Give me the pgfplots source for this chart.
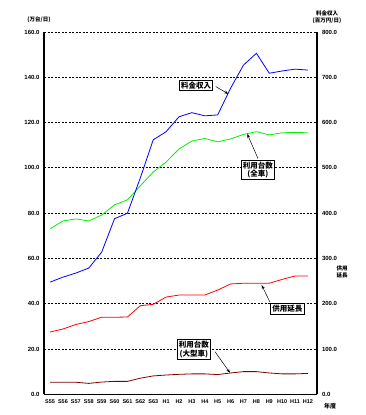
\documentclass[border=0pt]{standalone}
\usepackage{pgfplots}
\pgfplotsset{compat=1.18}
\usepackage{fontspec}
\setmainfont{Liberation Sans}
\newfontfamily\jp{Noto Sans CJK JP}
\usetikzlibrary{arrows.meta}
\begin{document}
\begin{tikzpicture}[x=1pt,y=1pt]
\useasboundingbox (0,0) rectangle (365,415);
\pgfplotsset{
  base/.style={
    at={(44pt,20.5pt)}, anchor=south west, scale only axis,
    width=273pt, height=362.5pt,
    xmin=-0.47, xmax=20.7,
    major tick length=0pt,
    axis line style={line width=1.1pt,-},
    tick label style={font=\bfseries\fontsize{6}{7}\selectfont},
    yticklabel style={/pgf/number format/fixed,/pgf/number format/fixed zerofill,/pgf/number format/precision=1,/pgf/number format/assume math mode=true},
  }
}
\begin{axis}[base,
  ymin=0, ymax=160, ytick={0,20,...,160},
  xtick={0,...,20},
  xticklabels={S55,S56,S57,S58,S59,S60,S61,S62,S63,H1,H2,H3,H4,H5,H6,H7,H8,H9,H10,H11,H12},
  xticklabel style={font=\bfseries\fontsize{5.5}{6}\selectfont, yshift=-2pt},
  yticklabel style={xshift=-1pt},
  axis y line*=left, axis x line*=bottom,
  ymajorgrids,
  major grid style={black, dash pattern=on 2.2pt off 1.3pt, line width=0.9pt},
]
\addplot[color={rgb,255:red,0;green,240;blue,0}, line width=0.8pt] coordinates {
(0,73.1)(1,76.6)(2,77.5)(3,76.6)(4,79.2)(5,83.7)(6,85.9)(7,92.1)(8,98.2)(9,102.6)(10,108.4)
(11,111.9)(12,113.0)(13,111.5)(14,112.8)(15,114.8)(16,116.0)(17,114.6)(18,115.5)(19,115.7)(20,115.5)};
\addplot[color={rgb,255:red,128;green,0;blue,0}, line width=0.8pt] coordinates {
(0,5.4)(1,5.4)(2,5.4)(3,4.9)(4,5.5)(5,5.8)(6,5.8)(7,7.2)(8,8.2)(9,8.6)(10,8.9)
(11,9.1)(12,9.1)(13,8.8)(14,9.5)(15,10.1)(16,10.1)(17,9.5)(18,9.1)(19,9.1)(20,9.3)};
\end{axis}
\begin{axis}[base,
  ymin=0, ymax=800, ytick={0,100,...,800},
  axis y line*=right, axis x line=none,
  yticklabel style={xshift=1.5pt},
]
\addplot[color={rgb,255:red,0;green,0;blue,255}, line width=0.8pt] coordinates {
(0,248)(1,259)(2,268)(3,279)(4,314)(5,388)(6,400)(7,478)(8,562)(9,580)(10,613)
(11,622)(12,615)(13,617)(14,676)(15,727)(16,753)(17,709)(18,714)(19,718)(20,716)};
\addplot[color={rgb,255:red,255;green,0;blue,0}, line width=0.8pt] coordinates {
(0,138)(1,144.5)(2,154.5)(3,161)(4,170.5)(5,170.5)(6,171)(7,196)(8,199)(9,215)(10,219.5)
(11,219.5)(12,219.5)(13,230.5)(14,244)(15,245.5)(16,245.5)(17,245.5)(18,254)(19,261.5)(20,261.5)};
\tikzset{bx/.style={draw, line width=0.9pt, fill=white, inner sep=1.6pt, align=center, font=\jp\bfseries\fontsize{7.5}{8.5}\selectfont},
         ar/.style={-{Stealth[length=4pt,width=3pt]}, line width=0.5pt}}
\draw[ar] (axis cs:12.85,679.5) -- (axis cs:13.82,663.5);
\node[bx] at (axis cs:11.32,682) {料金収入};
\draw[ar] (axis cs:16.12,521) -- (axis cs:15.29,575);
\node[bx] at (axis cs:16.12,495.5) {利用台数\\(全車)};
\draw[ar] (axis cs:17.05,204) -- (axis cs:16.41,241.5);
\node[bx] at (axis cs:18.41,188.5) {供用延長};
\draw[ar] (axis cs:12.79,94.5) -- (axis cs:13.95,48);
\node[bx] at (axis cs:11.16,99.5) {利用台数\\(大型車)};
\end{axis}
\node[font=\jp\bfseries\fontsize{5.5}{6}\selectfont] at (39,395) {(万台/日)};
\node[font=\jp\bfseries\fontsize{5.5}{6.5}\selectfont, align=center] at (327,398) {料金収入\\(百万円/日)};
\node[font=\jp\bfseries\fontsize{5.5}{6.5}\selectfont, align=center] at (342,143) {供用\\延長};
\node[font=\jp\bfseries\fontsize{6}{7}\selectfont] at (330,9) {年度};
\end{tikzpicture}
\end{document}
